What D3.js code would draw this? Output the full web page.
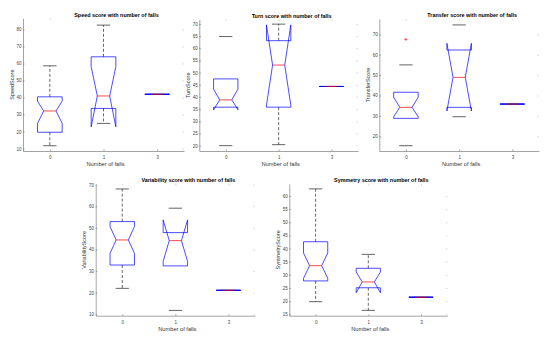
<!DOCTYPE html>
<html>
<head>
<meta charset="utf-8">
<script src="https://cdn.jsdelivr.net/npm/d3@7"></script>
<style>
  body { margin: 0; background: #fff; }
  svg { display: block; }
</style>
</head>
<body>
<div id="chart"></div>
<script>
const fallGroups = ["0", "1", "3"]

// one row per group: [lower whisker, q1, notch low, median, notch high, q3, upper whisker]
const speedStats = [
  [11.7, 19.6, 24.8, 32.1, 37.9, 40.4, 58.6],
  [24.8, 33.6, 22.8, 40.9, 58.1, 63.9, 82.5],
  [41.9, 41.9, 41.9, 41.9, 41.9, 41.9, 41.9]
]
const turnStats = [
  [20.0, 35.8, 34.7, 38.8, 43.2, 47.4, 64.8],
  [20.4, 35.8, 36.6, 53.1, 69.6, 63.1, 69.9],
  [44.3, 44.3, 44.3, 44.3, 44.3, 44.3, 44.3]
]
const transferStats = [
  [15.4, 28.8, 29.6, 34.2, 39.1, 41.6, 55.0],
  [29.6, 34.2, 32.4, 48.9, 65.6, 62.3, 74.6],
  [35.8, 35.8, 35.8, 35.8, 35.8, 35.8, 35.8]
]
const variabilityStats = [
  [22.0, 32.8, 38.2, 44.4, 50.6, 52.9, 68.0],
  [11.8, 32.4, 34.5, 44.1, 53.7, 47.8, 59.1],
  [21.1, 21.1, 21.1, 21.1, 21.1, 21.1, 21.1]
]
const symmetryStats = [
  [19.8, 27.7, 28.7, 33.5, 38.3, 42.6, 62.7],
  [16.5, 25.1, 23.2, 27.3, 31.1, 32.5, 37.8],
  [21.5, 21.5, 21.5, 21.5, 21.5, 21.5, 21.5]
]

// outliers: [group index, value]
const speedOutliers = []
const turnOutliers = []
const transferOutliers = [[0, 67.5]]
const variabilityOutliers = []
const symmetryOutliers = []

const speedTicks = [10, 20, 30, 40, 50, 60, 70, 80]
const turnTicks = [20, 25, 30, 35, 40, 45, 50, 55, 60, 65, 70]
const transferTicks = [20, 30, 40, 50, 60, 70]
const variabilityTicks = [10, 20, 30, 40, 50, 60, 70]
const symmetryTicks = [15, 20, 25, 30, 35, 40, 45, 50, 55, 60]

const width = 550
const height = 337
const font = "'Liberation Sans', Arial, sans-serif"

// frame = [left, top, right, bottom] in px; dashed = whisker stems visible per group
const panels = [
  { title: "Speed score with number of falls", ylabel: "SpeedScore", stats: speedStats,
    outliers: speedOutliers, ticks: speedTicks, yDomain: [8.6, 86.5],
    frame: [23, 18.3, 184, 151], dashed: [true, true, true] },
  { title: "Turn score with number of falls", ylabel: "TurnScore", stats: turnStats,
    outliers: turnOutliers, ticks: turnTicks, yDomain: [17.8, 71.8],
    frame: [199.3, 19.5, 358, 151], dashed: [false, true, true] },
  { title: "Transfer score with number of falls", ylabel: "TransferScore", stats: transferStats,
    outliers: transferOutliers, ticks: transferTicks, yDomain: [12.8, 77.5],
    frame: [379.3, 19, 539, 151], dashed: [false, false, true] },
  { title: "Variability score with number of falls", ylabel: "VariabilityScore", stats: variabilityStats,
    outliers: variabilityOutliers, ticks: variabilityTicks, yDomain: [9.35, 70.3],
    frame: [95.7, 184, 255, 315.7], dashed: [true, false, true] },
  { title: "Symmetry score with number of falls", ylabel: "SymmetryScore", stats: symmetryStats,
    outliers: symmetryOutliers, ticks: symmetryTicks, yDomain: [14.47, 64.56],
    frame: [289.3, 184, 447.3, 315.7], dashed: [true, true, true] }
]

const svg = d3
  .select("#chart")
  .append("svg")
  .attr("width", width)
  .attr("height", height)
  .attr("viewBox", [0, 0, width, height])
  .style("font-family", font)

svg.append("rect").attr("width", width).attr("height", height).attr("fill", "#fff")

const boxHalf = 0.23
const notchHalf = 0.115
const capHalf = 0.125

function drawPanel(p) {
  const [x0, y0, x1, y1] = p.frame
  const x = d3.scaleLinear().domain([0.5, 3.5]).range([x0, x1])
  const y = d3.scaleLinear().domain(p.yDomain).range([y1, y0])
  const g = svg.append("g")

  // axes (MATLAB style, ticks pointing inward)
  const yAxis = g.append("g")
    .attr("transform", `translate(${x0},0)`)
    .call(d3.axisLeft(y).tickValues(p.ticks).tickSize(-1.5).tickSizeOuter(0).tickPadding(1.6))
  const xAxis = g.append("g")
    .attr("transform", `translate(0,${y1})`)
    .call(d3.axisBottom(x).tickValues([1, 2, 3]).tickFormat((d, i) => fallGroups[i])
      .tickSize(-1.5).tickSizeOuter(0).tickPadding(5))
  const rAxis = g.append("g")
    .attr("transform", `translate(${x1},0)`)
    .call(d3.axisRight(y).tickValues(p.ticks).tickSize(-1.5).tickFormat(""))
  const tAxis = g.append("g")
    .attr("transform", `translate(0,${y0})`)
    .call(d3.axisTop(x).tickValues([1, 2, 3]).tickSize(-1.5).tickFormat(""))
  rAxis.select(".domain").remove()
  tAxis.select(".domain").remove()
  ;[rAxis, tAxis].forEach(a => a.selectAll("line").attr("stroke", "#aaa").attr("stroke-width", 0.5))
  ;[yAxis, xAxis].forEach(a => {
    a.selectAll(".domain, line").attr("stroke", "#666").attr("stroke-width", 0.6)
    a.selectAll("text").attr("fill", "#444").attr("font-size", 4.5).attr("font-family", font)
  })

  // whiskers and caps
  p.stats.forEach((s, i) => {
    const c = i + 1
    const [lw, q1, , , , q3, uw] = s
    if (p.dashed[i]) {
      g.append("line").attr("x1", x(c)).attr("x2", x(c)).attr("y1", y(q3)).attr("y2", y(uw))
        .attr("stroke", "#000").attr("stroke-width", 0.6).attr("stroke-dasharray", "3,2")
      g.append("line").attr("x1", x(c)).attr("x2", x(c)).attr("y1", y(q1)).attr("y2", y(lw))
        .attr("stroke", "#000").attr("stroke-width", 0.6).attr("stroke-dasharray", "3,2")
    }
    ;[lw, uw].forEach(v => {
      g.append("line").attr("x1", x(c - capHalf)).attr("x2", x(c + capHalf))
        .attr("y1", y(v)).attr("y2", y(v))
        .attr("stroke", "#222").attr("stroke-width", 0.7)
    })
  })

  // notched boxes
  const line = d3.line()
  p.stats.forEach((s, i) => {
    const c = i + 1
    const [, q1, nlo, med, nhi, q3] = s
    const pts = [
      [x(c - boxHalf), y(q3)], [x(c - boxHalf), y(nhi)], [x(c - notchHalf), y(med)],
      [x(c - boxHalf), y(nlo)], [x(c - boxHalf), y(q1)], [x(c + boxHalf), y(q1)],
      [x(c + boxHalf), y(nlo)], [x(c + notchHalf), y(med)], [x(c + boxHalf), y(nhi)],
      [x(c + boxHalf), y(q3)]
    ]
    g.append("path").attr("d", line(pts) + "Z")
      .attr("fill", "none").attr("stroke", "#0000ff").attr("stroke-width", 0.7)
    g.append("line").attr("x1", x(c - notchHalf)).attr("x2", x(c + notchHalf))
      .attr("y1", y(med)).attr("y2", y(med))
      .attr("stroke", "#ff0000").attr("stroke-width", 0.7)
  })

  // outliers
  p.outliers.forEach(([i, v]) => {
    const cx = x(i + 1), cy = y(v)
    g.append("path").attr("d", `M${cx - 1.6},${cy}H${cx + 1.6}M${cx},${cy - 1.6}V${cy + 1.6}`)
      .attr("stroke", "#ff0000").attr("stroke-width", 0.6)
  })

  // labels
  g.append("text").attr("x", (x0 + x1) / 2 + 13).attr("y", y0 - 1.6)
    .attr("text-anchor", "middle").attr("font-size", 5.4).attr("font-weight", "bold")
    .attr("fill", "#000").text(p.title)
  g.append("text").attr("x", (x0 + x1) / 2 + 2).attr("y", y1 + 15.4)
    .attr("text-anchor", "middle").attr("font-size", 5.7).attr("fill", "#333")
    .text("Number of falls")
  g.append("text")
    .attr("transform", `translate(${x0 - 9.5},${(y0 + y1) / 2}) rotate(-90)`)
    .attr("text-anchor", "middle").attr("font-size", 5.5).attr("fill", "#333")
    .text(p.ylabel)
}

panels.forEach(drawPanel)
</script>
</body>
</html>
